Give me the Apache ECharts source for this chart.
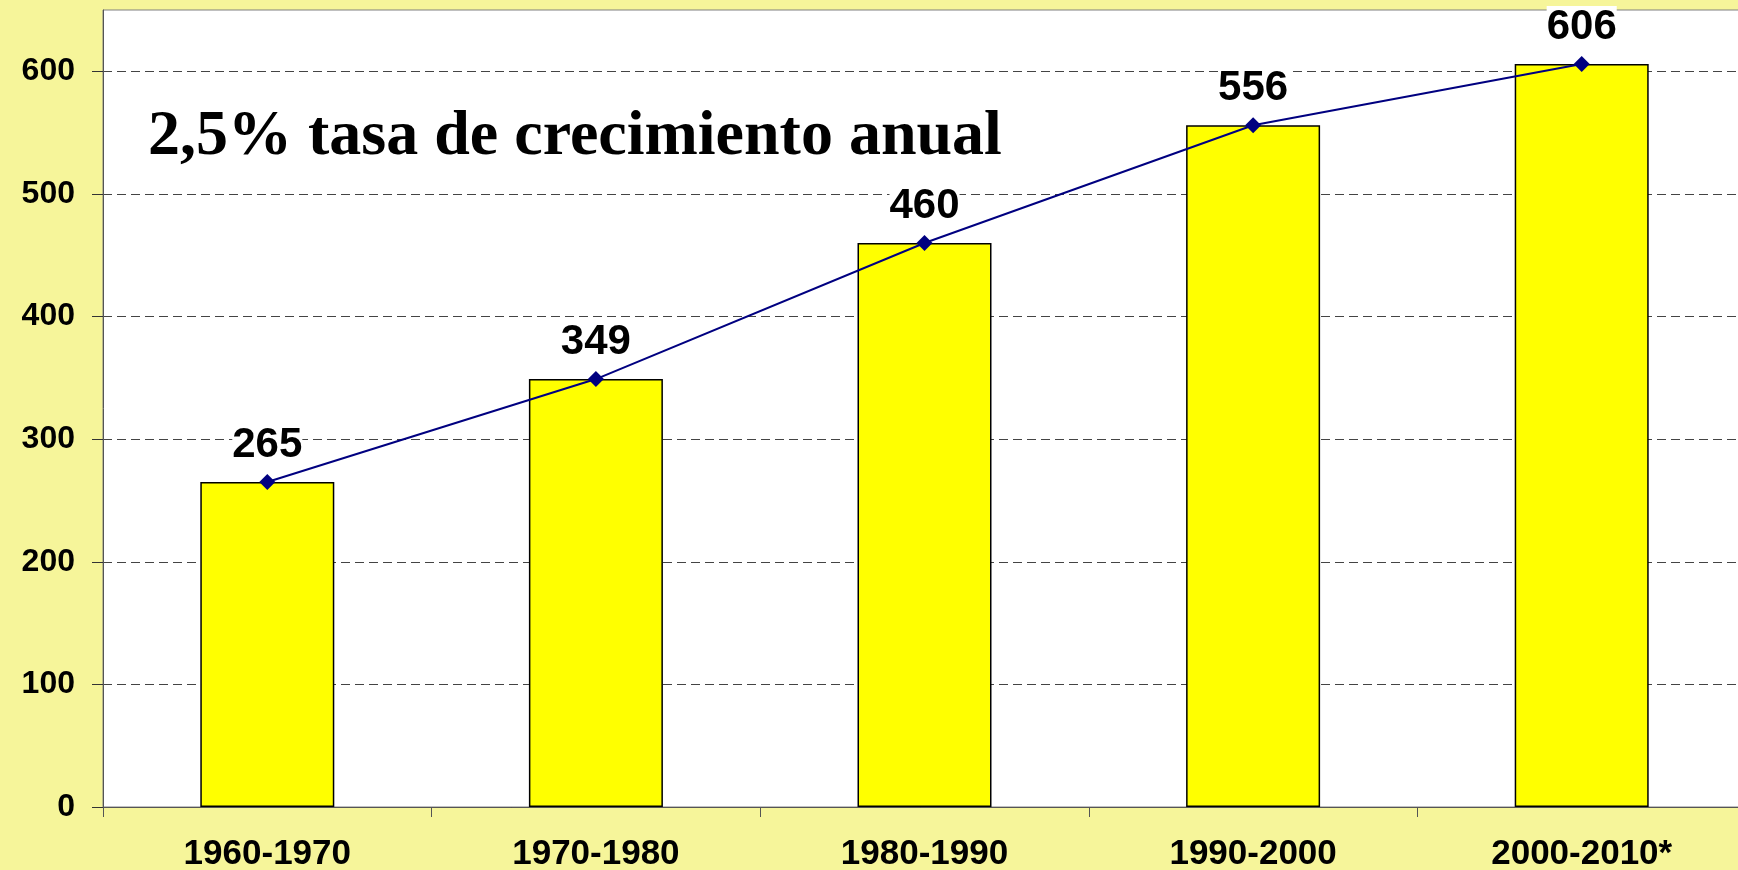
<!DOCTYPE html>
<html>
<head>
<meta charset="utf-8">
<script src="https://cdn.jsdelivr.net/npm/echarts@6/dist/echarts.min.js"></script>
<style>
  html, body { margin: 0; padding: 0; background: #f6f59a; }
  #chart { width: 1738px; height: 870px; }
</style>
</head>
<body>
<div id="chart"></div>
<script>
// decades and values
const periods = ['1960-1970', '1970-1980', '1980-1990', '1990-2000', '2000-2010*']
const values = [265, 349, 460, 556, 606]
const yTicks = [0, 100, 200, 300, 400, 500, 600]
const titleText = '2,5% tasa de crecimiento anual'

const labelFont = 'Liberation Sans, Arial, sans-serif'

const myChart = echarts.init(document.getElementById('chart'))
myChart.setOption({
  backgroundColor: '#f6f59a',
  animation: false,
  title: {
    text: titleText,
    left: 143,
    top: 100,
    textStyle: {
      fontFamily: 'Liberation Serif, Times New Roman, serif',
      fontWeight: 'bold',
      fontSize: 64,
      color: '#000'
    }
  },
  grid: {
    left: 103,
    right: -8,
    top: 10,
    bottom: 63,
    outerBoundsMode: 'none',
    show: true,
    backgroundColor: '#ffffff',
    borderColor: '#808080',
    borderWidth: 1
  },
  xAxis: {
    type: 'category',
    data: periods,
    axisLine: { lineStyle: { color: '#555', width: 1 } },
    axisTick: { show: true, length: 10, lineStyle: { color: '#555' } },
    axisLabel: {
      margin: 30,
      fontFamily: labelFont,
      fontWeight: 'bold',
      fontSize: 35,
      color: '#000'
    }
  },
  yAxis: {
    type: 'value',
    min: 0,
    max: 650,
    interval: 100,
    axisLine: { show: true, lineStyle: { color: '#555', width: 1 } },
    axisTick: { show: true, length: 11, lineStyle: { color: '#333' } },
    axisLabel: {
      margin: 28,
      showMaxLabel: false,
      fontFamily: labelFont,
      fontWeight: 'bold',
      fontSize: 32,
      color: '#000',
      formatter: v => (yTicks.includes(v) ? String(v) : '')
    },
    splitLine: {
      show: true,
      showMaxLine: false,
      lineStyle: { color: '#444', type: [9, 5], width: 1 }
    }
  },
  series: [
    {
      type: 'bar',
      data: values,
      barWidth: 134,
      itemStyle: { color: '#ffff00', borderColor: '#000', borderWidth: 1.5 }
    },
    {
      type: 'line',
      data: values,
      symbol: 'diamond',
      symbolSize: 16,
      lineStyle: { color: '#000080', width: 2 },
      itemStyle: { color: '#000080' },
      label: {
        show: true,
        position: 'top',
        distance: 8,
        fontFamily: labelFont,
        fontWeight: 'bold',
        fontSize: 42,
        color: '#000',
        backgroundColor: '#ffffff'
      },
      z: 5
    }
  ]
})
window.addEventListener('resize', () => myChart.resize())
</script>
</body>
</html>
